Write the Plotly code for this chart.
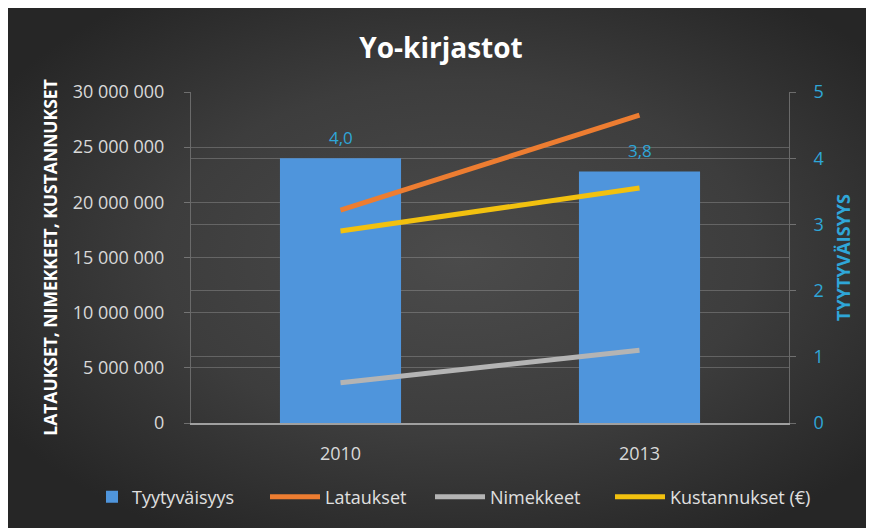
import plotly.graph_objects as go
import base64

years = ["2010", "2013"]
tyytyvaisyys = [4.0, 3.8]
lataukset = [19300000, 27900000]
nimekkeet = [3650000, 6600000]
kustannukset = [17400000, 21300000]

# page body has an 8px margin: the figure sits at (8, 8) in the window
W, H = 866, 520
L, R, T, B = 183, 781, 84, 415
pw, ph = R - L, B - T

svg = """<svg xmlns='http://www.w3.org/2000/svg' width='866' height='520' viewBox='0 0 866 520' preserveAspectRatio='none'>
<defs><radialGradient id='g' cx='52%' cy='48%' r='62%'>
<stop offset='0%' stop-color='#4b4b4b'/><stop offset='55%' stop-color='#3d3d3d'/><stop offset='100%' stop-color='#262626'/>
</radialGradient></defs><rect width='866' height='520' fill='url(#g)'/></svg>"""
bg_src = "data:image/svg+xml;base64," + base64.b64encode(svg.encode()).decode()

FONT = "Open Sans"
CYAN = "#2fa6d8"

fig = go.Figure()
fig.add_trace(go.Bar(
    x=years, y=tyytyvaisyys, name="Tyytyväisyys", yaxis="y", legend="legend",
    marker=dict(color="#4f95dc", line=dict(width=0)),
))
line_specs = [
    ("Lataukset", lataukset, "#ed7d31", "legend2"),
    ("Nimekkeet", nimekkeet, "#b4b4b4", "legend3"),
    ("Kustannukset (€)", kustannukset, "#f2c10f", "legend4"),
]
for name, vals, col, lg in line_specs:
    fig.add_trace(go.Scatter(x=years, y=vals, name=name, mode="lines", legend=lg,
                             line=dict(color=col, width=5), yaxis="y2"))

# value labels above the bars (category index as x position)
annotations = [
    dict(x=i, y=v, xref="x", yref="y", text=f"{v:.1f}".replace(".", ","),
         showarrow=False, yshift=21, font=dict(size=17, color=CYAN, family=FONT))
    for i, v in enumerate(tyytyvaisyys)
]


def legend_at(left_px, iw):
    return dict(orientation="h", xref="container", yref="container",
                x=left_px / W, xanchor="left", y=1 - 489 / H, yanchor="middle",
                font=dict(size=18, color="#e0e0e0", family=FONT), bgcolor="rgba(0,0,0,0)",
                borderwidth=0, itemwidth=iw)


grid = "rgba(200,200,200,0.28)"
fig.update_layout(
    width=W, height=H,
    margin=dict(l=L, r=W - R, t=T, b=H - B, pad=0, autoexpand=False),
    paper_bgcolor="#333333",
    plot_bgcolor="rgba(0,0,0,0)",
    separators=", ",
    font=dict(family=FONT, color="#d9d9d9", size=18),
    title=dict(text="<b>Yo-kirjastot</b>", x=0.5, xanchor="center", y=1 - 40 / H, yanchor="middle",
               font=dict(size=28, color="white", family=FONT)),
    bargap=0.595,
    showlegend=True,
    legend=legend_at(84, 30),
    legend2=legend_at(257, 50),
    legend3=legend_at(422, 50),
    legend4=legend_at(602, 50),
    annotations=annotations,
    xaxis=dict(type="category", range=[-0.5, len(years) - 0.5], autorange=False,
               showgrid=False, showline=True, linecolor="#a0a0a0", linewidth=2,
               tickfont=dict(size=18, color="#d9d9d9"), ticks="", ticklabelstandoff=13),
    yaxis=dict(range=[0, 5], dtick=1, side="right",
               showgrid=True, gridcolor=grid, gridwidth=1,
               zeroline=False, showline=True, linecolor="#6a6a6a", linewidth=1,
               ticks="outside", ticklen=6, tickcolor="rgba(200,200,200,0.4)",
               ticklabelstandoff=14,
               tickfont=dict(size=18, color=CYAN),
               title=dict(text="<b>TYYTYVÄISYYS</b>", standoff=14,
                          font=dict(size=18, color=CYAN))),
    yaxis2=dict(range=[0, 30000000], dtick=5000000, tickformat=",d",
                overlaying="y", side="left",
                showgrid=True, gridcolor=grid, gridwidth=1,
                zeroline=False, showline=True, linecolor="#6a6a6a", linewidth=1,
                ticks="outside", ticklen=6, tickcolor="rgba(200,200,200,0.4)",
                ticklabelstandoff=16,
                tickfont=dict(size=18, color="#d9d9d9"),
                title=dict(text="<b>LATAUKSET, NIMEKKEET, KUSTANNUKSET</b>", standoff=10,
                           font=dict(size=17.5, color="white"))),
    images=[dict(source=bg_src, xref="paper", yref="paper",
                 x=-L / pw, y=B / ph, sizex=W / pw, sizey=H / ph,
                 xanchor="left", yanchor="top", sizing="stretch", layer="below")],
)

fig.write_html(
    "out.html",
    post_script="document.documentElement.style.overflow='hidden';document.body.style.overflow='hidden';",
)
